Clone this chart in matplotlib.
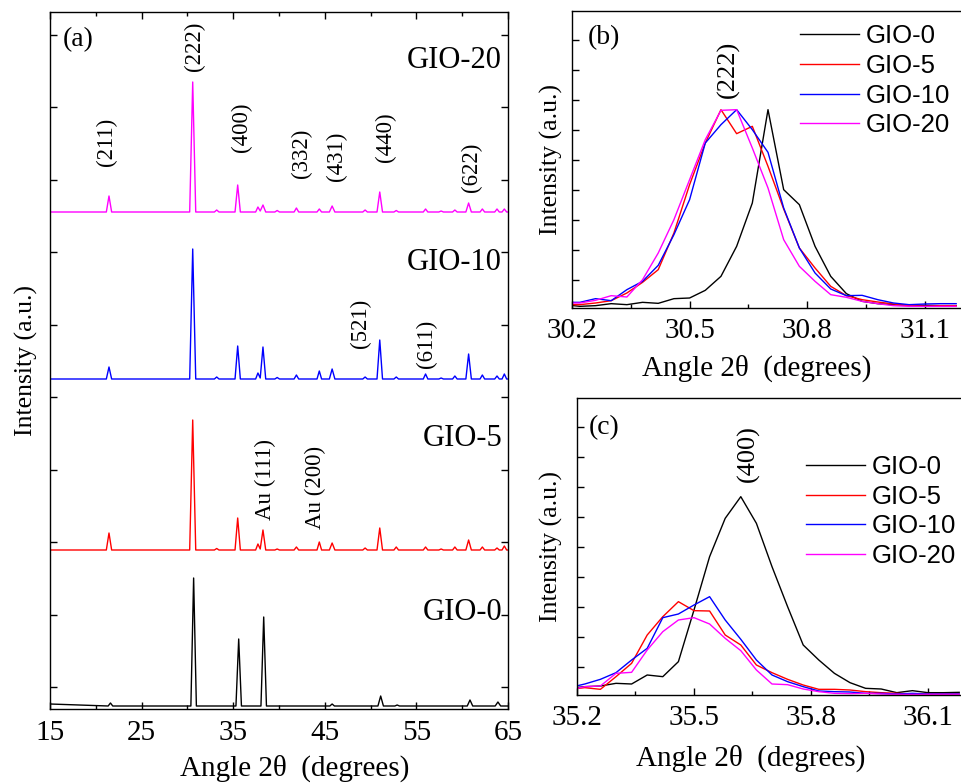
import numpy as np
import matplotlib
matplotlib.use("Agg")
import matplotlib.pyplot as plt
from matplotlib.ticker import FixedLocator, NullFormatter

SERIF = "Liberation Serif"
SANS = "Liberation Sans"
plt.rcParams["font.family"] = [SERIF, "DejaVu Serif"]

LABELS = ["GIO-0", "GIO-5", "GIO-10", "GIO-20"]
COLORS = {"GIO-0": "black", "GIO-5": "#ff0000", "GIO-10": "#0000ff", "GIO-20": "#ff00ff"}

# ---- panel (a): full patterns, digitised vertices (height above each baseline, a.u.)
XRD_X = [15.0,
         21.15, 21.44, 21.73,
         30.25, 30.58, 30.91,
         32.95, 33.2, 33.45,
         35.2, 35.49, 35.78,
         37.45, 37.7, 37.95, 38.25, 38.55,
         39.55, 39.8, 40.05,
         41.65, 41.9, 42.15,
         44.15, 44.4, 44.65,
         45.5, 45.8, 46.1,
         49.15, 49.4, 49.65,
         50.7, 51.0, 51.3,
         52.55, 52.8, 53.05,
         55.75, 56.0, 56.25,
         57.45, 57.7, 57.95,
         58.95, 59.2, 59.45,
         60.4, 60.7, 61.0,
         61.95, 62.2, 62.45,
         63.55, 63.8, 64.05,
         64.35, 64.6, 64.85,
         65.0]
GIO20_Y = [0, 0, 16, 0, 0, 130, 0, 0, 2, 0, 0, 27, 0, 0, 5, 1, 7, 0, 0, 1.5, 0, 0, 4, 0,
           0, 3, 0, 0, 6, 0, 0, 2, 0, 0, 20, 0, 0, 1.5, 0, 0, 3, 0, 0, 1, 0, 0, 2, 0,
           0, 9, 0, 0, 3, 0, 0, 3, 0, 0, 3, 0, 0]
GIO10_Y = [0, 0, 12, 0, 0, 130, 0, 0, 2, 0, 0, 33, 0, 0, 6, 1, 32, 0, 0, 1.5, 0, 0, 4, 0,
           0, 8, 0, 0, 10, 0, 0, 2, 0, 0, 39, 0, 0, 2, 0, 0, 5, 0, 0, 1, 0, 0, 3, 0,
           0, 25, 0, 0, 4, 0, 0, 3, 0, 0, 5, 0, 0]
GIO5_Y = [0, 0, 17, 0, 0, 130, 0, 0, 1.5, 0, 0, 32, 0, 0, 6, 1, 20, 0, 0, 1, 0, 0, 3, 0,
          0, 8, 0, 0, 7, 0, 0, 2, 0, 0, 22, 0, 0, 3, 0, 0, 3, 0, 0, 1, 0, 0, 3, 0,
          0, 10, 0, 0, 3, 0, 0, 2, 0, 0, 4, 0, 0]
GIO0_X = [15.0, 21.35, 21.6, 21.85, 30.38, 30.68, 30.98, 35.3, 35.6, 35.9, 38.03, 38.33, 38.63,
          45.55, 45.8, 46.05, 50.8, 51.1, 51.4, 52.65, 52.9, 53.15, 60.55, 60.85, 61.15,
          63.6, 63.9, 64.2, 65.0]
GIO0_Y = [2, 0, 3, 0, 0, 128, 0, 0, 67, 0, 0, 89, 0, 0, 2, 0, 0, 10, 0, 0, 1, 0, 0, 6, 0,
          0, 4, 0, 0]
OFFSETS = {"GIO-0": 3, "GIO-5": 159, "GIO-10": 330, "GIO-20": 497}

# ---- panel (b): (222) region
B_X = [30.18, 30.22, 30.26, 30.30, 30.34, 30.38, 30.42, 30.46, 30.50, 30.54, 30.58, 30.62, 30.66,
       30.70, 30.74, 30.78, 30.82, 30.86, 30.90, 30.94, 30.98, 31.02, 31.06, 31.10, 31.14, 31.18]
B_GIO0 = [10, 5, 7, 13, 10, 17, 14, 28, 30, 53, 95, 185, 315, 595, 355, 310, 185, 95, 43, 20,
          13, 10, 8, 8, 7, 7]
B_GIO5 = [10, 10, 15, 22, 45, 77, 115, 225, 370, 495, 595, 523, 545, 425, 297, 180, 120, 65,
          37, 25, 18, 12, 7, 5, 7, 7]
B_GIO10 = [17, 17, 28, 22, 55, 80, 128, 220, 325, 495, 550, 595, 535, 467, 300, 180, 105, 57,
           37, 38, 25, 15, 10, 12, 13, 13]
B_GIO20 = [15, 15, 23, 37, 33, 85, 165, 265, 385, 505, 593, 595, 480, 360, 205, 125, 80, 40,
           32, 20, 13, 7, 5, 5, 5, 5]

# ---- panel (c): (400) region
C_X = [35.18, 35.22, 35.26, 35.30, 35.34, 35.38, 35.42, 35.46, 35.50, 35.54, 35.58, 35.62, 35.66,
       35.70, 35.74, 35.78, 35.82, 35.86, 35.90, 35.94, 35.98, 36.02, 36.06, 36.10, 36.14, 36.18]
C_GIO0 = [20, 25, 27, 35, 33, 60, 55, 100, 255, 415, 530, 595, 515, 385, 265, 150, 105, 65, 37,
          20, 18, 7, 13, 7, 7, 8]
C_GIO5 = [17, 22, 17, 55, 95, 180, 235, 280, 253, 252, 180, 150, 90, 67, 47, 30, 17, 17, 15, 10,
          7, 5, 3, 3, 3, 3]
C_GIO10 = [22, 33, 47, 67, 105, 140, 232, 243, 270, 295, 225, 167, 105, 60, 40, 25, 12, 10, 9, 5,
           5, 3, 5, 3, 3, 3]
C_GIO20 = [15, 25, 27, 65, 68, 135, 190, 225, 232, 213, 170, 133, 75, 33, 31, 18, 10, 5, 4, 5,
           3, 2, 2, 2, 2, 2]

A_TICKS = [15, 25, 35, 45, 55, 65]
B_TICKS = ["30.2", "30.5", "30.8", "31.1"]
C_TICKS = ["35.2", "35.5", "35.8", "36.1"]

# peak annotations for panel (a): (text, x, y)
PEAK_LABELS = [("(211)", 21.2, 567), ("(222)", 30.8, 663), ("(400)", 35.85, 582),
               ("(332)", 42.4, 556), ("(431)", 46.3, 553), ("(440)", 51.6, 572),
               ("(622)", 61.0, 542), ("(521)", 48.85, 386), ("(611)", 56.05, 365),
               ("Au (111)", 38.5, 229), ("Au (200)", 44.0, 222)]
SAMPLE_LABELS = [("GIO-20", 648), ("GIO-10", 446), ("GIO-5", 271), ("GIO-0", 96)]


def style_axes(ax, fs=21):
    for s in ax.spines.values():
        s.set_linewidth(1.0)
    ax.tick_params(which="both", direction="in", width=1.0, labelsize=fs,
                   labelfontfamily=SERIF)
    ax.tick_params(which="major", length=5)
    ax.tick_params(which="minor", length=3)
    ax.yaxis.set_major_formatter(NullFormatter())


fig = plt.figure(figsize=(9.61, 7.84), dpi=100)
ax_a = fig.add_axes([50 / 961, 75 / 784, 458 / 961, 697 / 784])
ax_b = fig.add_axes([572 / 961, 476 / 784, 392 / 961, 297 / 784])
ax_c = fig.add_axes([577 / 961, 89 / 784, 390 / 961, 297 / 784])

# (a)
traces = {"GIO-0": (GIO0_X, GIO0_Y), "GIO-5": (XRD_X, GIO5_Y),
          "GIO-10": (XRD_X, GIO10_Y), "GIO-20": (XRD_X, GIO20_Y)}
for name in LABELS:
    x, y = traces[name]
    ax_a.plot(x, np.array(y) + OFFSETS[name], color=COLORS[name], lw=1.0)
ax_a.set_xlim(15, 65)
ax_a.set_ylim(0, 697)
ax_a.set_xticks(A_TICKS, [str(t) for t in A_TICKS])
ax_a.xaxis.set_minor_locator(FixedLocator([20, 30, 40, 50, 60]))
ax_a.yaxis.set_major_locator(FixedLocator(np.arange(22, 697, 72.5)))
style_axes(ax_a)
ax_a.tick_params(which="both", top=True, right=True)
ax_a.tick_params(axis="x", pad=8)
ax_a.set_xlabel("Angle 2θ  (degrees)", fontsize=21)
ax_a.xaxis.set_label_coords(0.535, -0.066)
ax_a.set_ylabel("Intensity (a.u.)", fontsize=18.5)
ax_a.yaxis.set_label_coords(-0.027, 0.5)
ax_a.text(0.027, 0.96, "(a)", transform=ax_a.transAxes, fontsize=20, va="center", ha="left")
for txt, y in SAMPLE_LABELS:
    ax_a.text(64.35, y, txt, fontsize=22, ha="right", va="center")
for txt, x, y in PEAK_LABELS:
    ax_a.text(x, y, txt, fontsize=16.5, rotation=90, ha="center", va="center")

# (b) and (c)
panels = [(ax_b, B_X, [B_GIO0, B_GIO5, B_GIO10, B_GIO20], (30.2, 31.2), B_TICKS,
           "(222)", (30.598, 715), (0.47, -0.158), -0.023),
          (ax_c, C_X, [C_GIO0, C_GIO5, C_GIO10, C_GIO20], (35.2, 36.2), C_TICKS,
           "(400)", (35.64, 725), (0.446, -0.168), -0.036)]
for ax, xs, series, lim, ticks, peak, ppos, xl, yl in panels:
    for name, vals in zip(LABELS, series):
        ax.plot(xs, vals, color=COLORS[name], lw=1.0, label=name)
    ax.set_xlim(*lim)
    ax.set_ylim(0, 891)
    ax.set_xticks([float(t) for t in ticks], ticks)
    ax.set_xticks([float(t) + 0.15 for t in ticks[:3]], minor=True)
    ax.yaxis.set_major_locator(FixedLocator(np.arange(85, 891, 90)))
    style_axes(ax)
    ax.tick_params(axis="x", pad=7)
    ax.set_xlabel("Angle 2θ  (degrees)", fontsize=21)
    ax.xaxis.set_label_coords(*xl)
    ax.set_ylabel("Intensity (a.u.)", fontsize=18.5)
    ax.yaxis.set_label_coords(yl, 0.5)
    ax.text(ppos[0], ppos[1], peak, fontsize=19, rotation=90, ha="center", va="center")

ax_b.text(0.04, 0.91, "(b)", transform=ax_b.transAxes, fontsize=20, va="center")
ax_c.text(0.03, 0.9, "(c)", transform=ax_c.transAxes, fontsize=20, va="center")

leg_kw = dict(loc="upper left", frameon=False, handlelength=2.3, handletextpad=0.25,
              labelspacing=0.22, borderpad=0, borderaxespad=0,
              prop={"family": SANS, "size": 18.5})
ax_b.legend(bbox_to_anchor=(0.582, 0.955), **leg_kw)
ax_c.legend(bbox_to_anchor=(0.587, 0.808), **leg_kw)

fig.savefig("out.png", dpi=100)
